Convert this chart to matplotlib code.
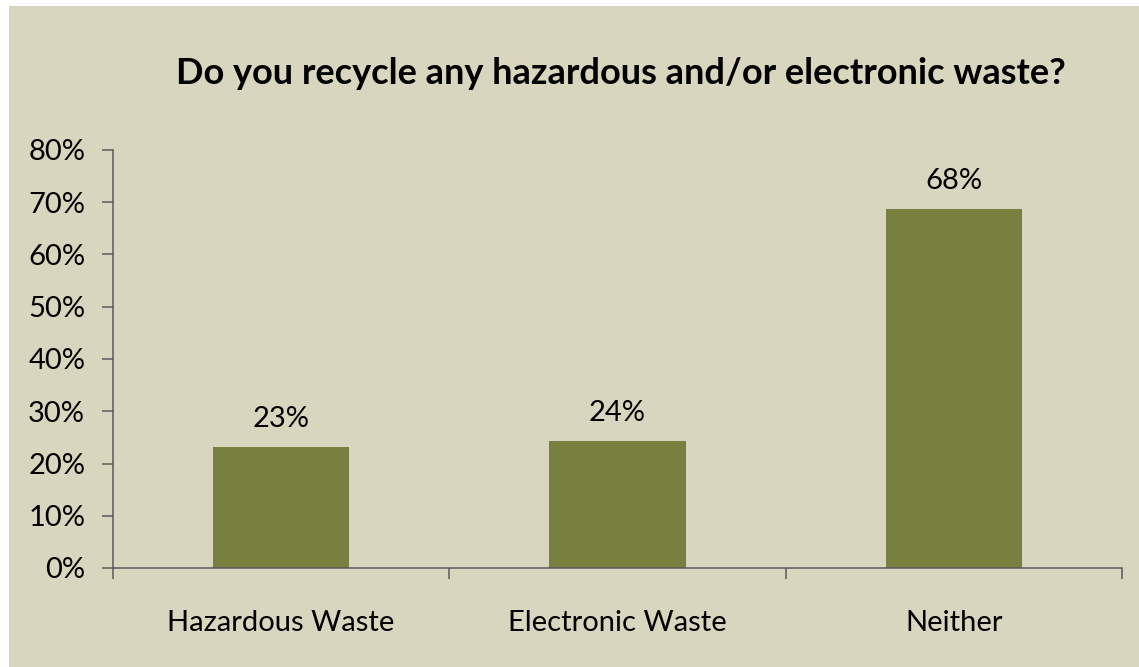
import matplotlib
matplotlib.use("Agg")
import matplotlib.pyplot as plt
from matplotlib.patches import Rectangle
from matplotlib.ticker import FuncFormatter

categories = ["Hazardous Waste", "Electronic Waste", "Neither"]
values = [23.2, 24.3, 68.7]
value_labels = ["23%", "24%", "68%"]
yticks = [0, 10, 20, 30, 40, 50, 60, 70, 80]
title = "Do you recycle any hazardous and/or electronic waste?"

BG = "#D8D6BE"
BAR = "#78803F"
AX = "#5A5A5A"
FONT = "Lato"
FS = 21

fig = plt.figure(figsize=(11.39, 6.67), dpi=100)
fig.patch.set_facecolor("white")
fig.patches.append(Rectangle((9 / 1139, 0), 1 - 9 / 1139, 1 - 6 / 667,
                             transform=fig.transFigure, facecolor=BG,
                             edgecolor="none", zorder=-10))

ax = fig.add_axes([113 / 1139, 1 - 568 / 667, (1122 - 113) / 1139, (568 - 150) / 667])
ax.set_facecolor("none")

x = list(range(len(categories)))
ax.bar(x, values, width=0.405, color=BAR, zorder=2)
for xi, v, lab in zip(x, values, value_labels):
    ax.annotate(lab, (xi, v), xytext=(0, 11), textcoords="offset points",
                ha="center", va="bottom", fontsize=FS, family=FONT, color="black")

ax.set_xlim(-0.5, 2.5)
ax.set_ylim(0, 80)
ax.set_yticks(yticks)
ax.yaxis.set_major_formatter(FuncFormatter(lambda v, p: f"{v:.0f}%"))

ax.set_xticks([-0.5, 0.5, 1.5, 2.5])
ax.set_xticklabels([])
ax.set_xticks(x, minor=True)
ax.set_xticklabels(categories, minor=True)
ax.tick_params(axis="x", which="major", direction="out", length=8, width=1.1, color=AX)
ax.tick_params(axis="x", which="minor", length=0, pad=30, labelsize=FS)
ax.tick_params(axis="y", direction="out", length=8, width=1.1, color=AX, pad=12, labelsize=FS)
for lab in ax.get_xticklabels(minor=True) + ax.get_yticklabels():
    lab.set_family(FONT)

for s in ["top", "right"]:
    ax.spines[s].set_visible(False)
for s in ["left", "bottom"]:
    ax.spines[s].set_color(AX)
    ax.spines[s].set_linewidth(1.1)

fig.text(621 / 1139, 1 - 74 / 667, title, ha="center", va="center",
         fontsize=26, fontweight="bold", family=FONT, color="black")

fig.savefig("out.png", dpi=100, facecolor=fig.get_facecolor())
